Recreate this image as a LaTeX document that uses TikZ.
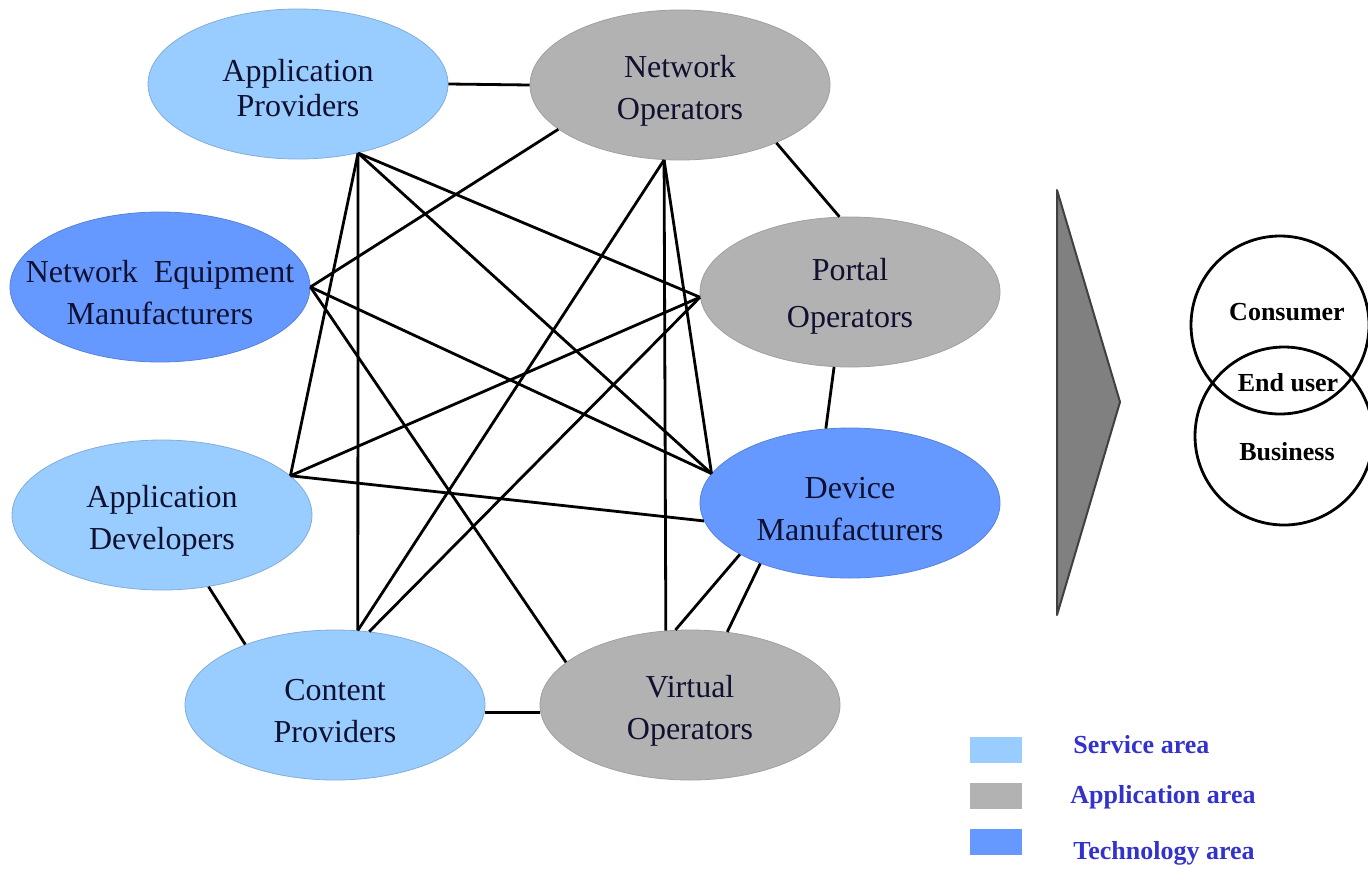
\documentclass[tikz,border=0pt]{standalone}
\usepackage{fontspec}
\setmainfont{Liberation Serif}
\usetikzlibrary{shapes.geometric}
\definecolor{svcblue}{HTML}{99CCFF}
\definecolor{appgrey}{HTML}{B2B2B2}
\definecolor{techblue}{HTML}{6699FF}
\definecolor{legblue}{HTML}{3333CC}
\definecolor{txtnavy}{HTML}{101030}
\definecolor{arrowgrey}{HTML}{808080}

\begin{document}
\begin{tikzpicture}[x=0.5pt,y=-0.5pt,
  actor/.style={ellipse,minimum width=150pt,minimum height=75pt,inner sep=0pt},
  svc/.style={actor,fill=svcblue,draw=svcblue!85!black,line width=0.4pt},
  appl/.style={actor,fill=appgrey,draw=appgrey!90!black,line width=0.4pt},
  tech/.style={actor,fill=techblue,draw=techblue!85!black,line width=0.4pt},
  lbl/.style={align=center,text=txtnavy,inner sep=0pt,font=\fontsize{16}{21}\selectfont},
  link/.style={line width=1.4pt,black},
  user/.style={circle,draw,line width=1.4pt,minimum size=89pt,inner sep=0pt},
  usertxt/.style={inner sep=0pt,font=\bfseries\fontsize{13}{15}\selectfont},
  swatch/.style={minimum width=26pt,minimum height=13pt,inner sep=0pt},
  legtext/.style={anchor=west,inner sep=0pt,text=legblue,font=\bfseries\fontsize{13}{15}\selectfont}]
\useasboundingbox (0,0) rectangle (1368,868);
\clip (0,0) rectangle (1368,868);

% actors
\node[svc]  (ap)  at (298,84)  {};
\node[appl] (no)  at (680,85)  {};
\node[tech] (nem) at (160,287) {};
\node[appl] (po)  at (850,292) {};
\node[svc]  (ad)  at (162,515) {};
\node[tech] (dm)  at (850,503) {};
\node[svc]  (cp)  at (335,705) {};
\node[appl] (vo)  at (690,705) {};

\node[lbl,font=\fontsize{16}{17.5}\selectfont] (aptxt) at ([yshift=-2pt]ap) {Application\\Providers};
\node[lbl] (notxt)  at ([yshift=-3pt]no)  {Network\\Operators};
\node[lbl] (nemtxt) at ([yshift=-3pt]nem) {Network \ Equipment\\Manufacturers};
\node[lbl,font=\fontsize{16}{23.5}\selectfont] (potxt) at ([yshift=-2pt]po) {Portal\\Operators};
\node[lbl] (adtxt)  at ([yshift=-3pt]ad)  {Application\\Developers};
\node[lbl] (dmtxt)  at ([yshift=-3pt]dm)  {Device\\Manufacturers};
\node[lbl] (cptxt)  at ([yshift=-3pt]cp)  {Content\\Providers};
\node[lbl] (votxt)  at ([yshift=-3pt]vo)  {Virtual\\Operators};

% outer ring
\draw[link] (ap.east) -- (no.west);
\draw[link] (no.-31) -- (po.98);
\draw[link] (po.-102) -- (dm.108);
\draw[link] (dm.205) -- (vo.101);
\draw[link] (dm.214) -- (vo.63);
\draw[link] (vo.183) -- (cp.-3);
\draw[link] (cp.146) -- (ad.-57);

% inner links
\draw[link] (ap.-49) -- (cp.73);
\draw[link] (ap.-49) -- (ad.17);
\draw[link] (ap.-49) -- (po.182);
\draw[link] (ap.-49) -- (dm.168);
\draw[link] (nem.0) -- (no.200);
\draw[link] (nem.0) -- (dm.168);
\draw[link] (nem.0) -- (vo.161);
\draw[link] (no.-102) -- (vo.108);
\draw[link] (no.-102) -- (cp.73);
\draw[link] (no.-102) -- (dm.168);
\draw[link] (po.182) -- (ad.17);
\draw[link] (po.182) -- (cp.65);
\draw[link] (ad.17) -- (dm.187);

% big arrow
\draw[fill=arrowgrey,draw=black!75,line width=1pt,line join=round] (1057,190) -- (1120,402) -- (1057,615) -- cycle;

% end user
\node[user] (cons) at (1280,325) {};
\node[user] (bus)  at (1284,436) {};
\node[usertxt] (constxt) at (1287,312) {Consumer};
\node[usertxt] (endtxt)  at (1288,383) {End user};
\node[usertxt] (bustxt)  at (1287,452) {Business};

% legend
\node[swatch,fill=svcblue] (lsvc)  at (996,750) {};
\node[swatch,fill=appgrey] (lapp)  at (996,796) {};
\node[swatch,fill=techblue] (ltech) at (996,842) {};
\node[legtext] (tsvc)  at (1073,745) {Service area};
\node[legtext] (tapp)  at (1070,797) {Application area};
\node[legtext] (ttech) at (1073,853) {Technology area};
\end{tikzpicture}
\end{document}
